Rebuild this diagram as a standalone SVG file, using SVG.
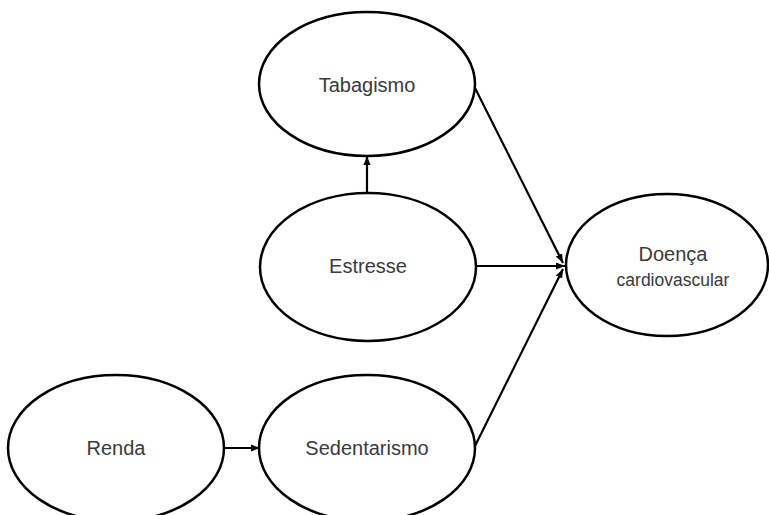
<svg xmlns="http://www.w3.org/2000/svg" width="769" height="515" viewBox="0 0 769 515">
  <style>
    .node ellipse { fill: #ffffff; stroke: #000000; stroke-width: 2.5; }
    .node text { font-family: "Liberation Sans", Arial, sans-serif; font-size: 20px; fill: #3a3a3a; text-anchor: middle; }
    .node text.small { font-size: 17.5px; }
    .edge { stroke: #000000; stroke-width: 2.2; fill: none; marker-end: url(#arrow); }
  </style>
  <defs>
    <marker id="arrow" markerUnits="userSpaceOnUse" markerWidth="10" markerHeight="10" viewBox="0 0 10 10" refX="9" refY="5" orient="auto">
      <path d="M0,1.5 L9,5 L0,8.5 Z" fill="#000000"/>
    </marker>
  </defs>

  <rect width="769" height="515" fill="#ffffff"/>

  <g id="connectors">
    <line class="edge" x1="367" y1="193" x2="367" y2="156"/>
    <line class="edge" x1="476" y1="266" x2="565" y2="266"/>
    <line class="edge" x1="474" y1="86" x2="563" y2="263"/>
    <line class="edge" x1="475" y1="446" x2="563" y2="269"/>
    <line class="edge" x1="223" y1="448" x2="260" y2="448"/>
  </g>

  <g id="tabagismo" class="node">
    <ellipse cx="367" cy="84" rx="108" ry="72"/>
    <text x="367" y="92">Tabagismo</text>
  </g>

  <g id="estresse" class="node">
    <ellipse cx="368" cy="267" rx="108" ry="74"/>
    <text x="368" y="273">Estresse</text>
  </g>

  <g id="doenca" class="node">
    <ellipse cx="667" cy="265" rx="101" ry="71"/>
    <text x="673" y="261">Doença</text>
    <text class="small" x="673" y="286">cardiovascular</text>
  </g>

  <g id="renda" class="node">
    <ellipse cx="116" cy="448" rx="108" ry="73"/>
    <text x="116" y="455">Renda</text>
  </g>

  <g id="sedentarismo" class="node">
    <ellipse cx="367" cy="448" rx="108" ry="73"/>
    <text x="367" y="455">Sedentarismo</text>
  </g>
</svg>
